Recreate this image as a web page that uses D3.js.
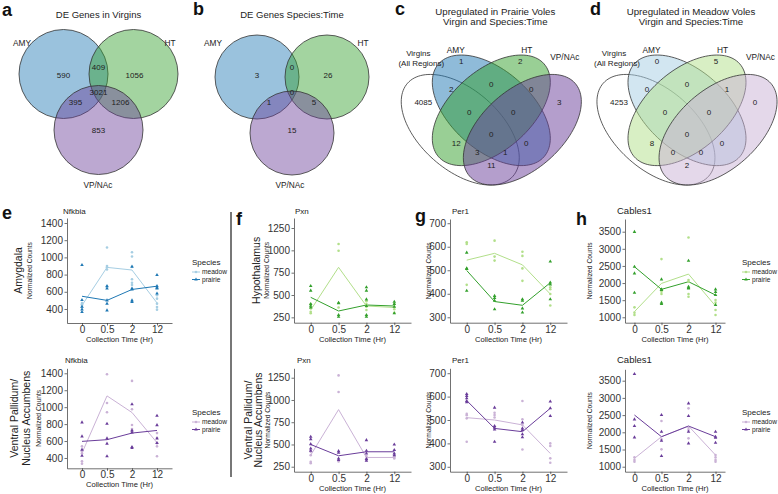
<!DOCTYPE html>
<html>
<head>
<meta charset="utf-8">
<script src="https://cdn.jsdelivr.net/npm/d3@7"></script>
<style>
  body { margin: 0; background: #fff; }
  svg { font-family: "Liberation Sans", Arial, Helvetica, sans-serif; }
</style>
</head>
<body>
<script>

// ---- data ----
var times = ["0", "0.5", "2", "12"];
var species = ["meadow", "prairie"];

var tripleSets = ["AMY", "HT", "VP/NAc"];
var virginCounts = [590, 409, 1056, 3021, 395, 1206, 853];
var speciesTimeCounts = [3, 0, 26, 0, 1, 5, 15];

var quadSets = ["Virgins", "AMY", "HT", "VP/NAc"];
var prairieUpCounts = [4085, 1, 2, 3, 2, 0, 0, 0, 0, 12, 0, 0, 3, 1, 11];
var meadowUpCounts = [4253, 0, 5, 0, 0, 0, 1, 0, 0, 8, 0, 0, 0, 0, 2];

var nfkbiaTicks = [400, 600, 800, 1000, 1200, 1400];
var pxnTicks = [250, 500, 750, 1000, 1250];
var per1Ticks = [300, 400, 500, 600, 700];
var cables1Ticks = [1000, 1500, 2000, 2500, 3000, 3500];

// Amygdala Nfkbia
var amyNfkbiaMeadow = [[470, 445, 420, 455], [1115, 900, 885, 860, 665], [1060, 1010, 890, 745, 705, 680], [560, 520, 462, 423, 392]];
var amyNfkbiaPrairie = [[912, 505, 425, 395, 365], [666, 638, 500, 462, 384], [892, 638, 627, 500, 482], [795, 666, 646, 638, 580]];
var amyNfkbiaMeadowMean = [443, 884, 853, 470];
var amyNfkbiaPrairieMean = [548, 500, 627, 665];

// VP/NAc Nfkbia
var vpNfkbiaMeadow = [[537, 480, 455, 361, 333], [1388, 1050, 940], [1310, 975, 790, 741, 722], [694, 635, 575, 537, 420]];
var vpNfkbiaPrairie = [[820, 655, 498, 427], [804, 631, 569, 420], [1035, 725, 702, 529, 518], [898, 788, 631, 576]];
var vpNfkbiaMeadowMean = [459, 1133, 937, 580];
var vpNfkbiaPrairieMean = [596, 616, 694, 725];

// Hypothalamus Pxn
var htPxnMeadow = [[399, 351, 313, 295], [1071, 996, 360], [430, 400, 369, 332], [400, 369, 340, 300]];
var htPxnPrairie = [[601, 549, 399, 380, 360], [414, 407, 276, 257], [586, 549, 451, 377, 276, 257], [425, 399, 369, 295]];
var htPxnMeadowMean = [332, 810, 377, 360];
var htPxnPrairieMean = [474, 321, 388, 377];

// VP/NAc Pxn
var vpPxnMeadow = [[430, 418, 380, 306, 290], [1276, 1090, 310], [369, 343, 325], [369, 354, 343]];
var vpPxnPrairie = [[586, 560, 504, 455, 429], [425, 407, 343, 325], [549, 429, 399, 336, 317], [500, 437, 399, 380]];
var vpPxnMeadowMean = [380, 892, 354, 354];
var vpPxnPrairieMean = [500, 373, 418, 418];

// Hypothalamus Per1
var htPer1Meadow = [[619, 612, 505, 438], [626, 558, 541], [579, 561, 508, 455], [428, 419, 399, 350]];
var htPer1Prairie = [[575, 508, 506, 413], [391, 382, 371, 334], [377, 371, 338, 320], [537, 448, 440, 377]];
var htPer1MeadowMean = [543, 572, 523, 399];
var htPer1PrairieMean = [499, 367, 351, 447];

// VP/NAc Per1
var vpPer1Meadow = [[526, 520, 507, 407], [531, 521, 511], [581, 503, 479, 374], [400, 389, 336, 317]];
var vpPer1Prairie = [[611, 603, 593, 581, 576], [553, 474, 467, 460, 407], [489, 464, 457, 439, 426], [579, 550, 517]];
var vpPer1MeadowMean = [510, 500, 479, 357];
var vpPer1PrairieMean = [583, 464, 450, 550];

// Hypothalamus Cables1
var htCables1Meadow = [[1291, 1136, 1068], [2699, 1748, 1680], [3330, 2087, 2039, 1680, 1602], [1505, 1427, 1214, 1068]];
var htCables1Prairie = [[3495, 2476, 2282, 1718], [2107, 1816, 1800, 1427, 1388], [2650, 1893, 1860, 1845], [1816, 1740, 1650, 1360]];
var htCables1MeadowMean = [1165, 1990, 2262, 1330];
var htCables1PrairieMean = [2476, 1816, 2039, 1650];

// VP/NAc Cables1
var vpCables1Meadow = [[1271, 1194, 1145], [2327, 1800, 1504], [2696, 2134, 2066, 1824], [1339, 1271, 1194, 1145]];
var vpCables1Prairie = [[3694, 2376, 2182, 1853], [2502, 2017, 1756, 1310], [2841, 2473, 2017, 1678], [2017, 1872, 1843, 1698]];
var vpCables1MeadowMean = [1242, 1872, 2182, 1339];
var vpCables1PrairieMean = [2502, 1872, 2182, 1872];

// ---- colours ----
var amyColors = ["#a6cee3", "#1f78b4"];
var htColors = ["#b2df8a", "#33a02c"];
var vpColors = ["#cab2d6", "#6a3d9a"];
var darkFills = ["#1f78b4", "#33a02c", "#6a3d9a"];
var lightFills = ["#a6cee3", "#b2df8a", "#cab2d6"];

var width = 778,
    height = 494,
    font = "'Liberation Sans', Arial, Helvetica, sans-serif";

var svg = d3.select("body")
    .append("svg")
    .attr("width", width)
    .attr("height", height);

function label(x, y, txt, size, opts) {
    opts = opts || {};
    var t = svg.append("text")
        .attr("x", x)
        .attr("y", y)
        .attr("text-anchor", opts.anchor || "middle")
        .attr("dy", opts.dy || "0.35em")
        .style("font-size", size + "px")
        .style("font-weight", opts.bold ? "bold" : "normal")
        .attr("fill", opts.fill || "#222")
        .text(txt);
    if (opts.rotate) t.attr("transform", "rotate(-90," + x + "," + y + ")");
    return t;
}

// ---- triple venns (a, b) ----
var tripleOffsets = [[-35, 75], [0, 67], [36, 75], [0, 92], [-23, 102], [22, 102.5], [0, 130]];

function drawTriple(cx, cy, r, title, counts, labelPos) {
    var centers = [[cx - 35, cy], [cx + 35, cy], [cx, cy + 56]];
    svg.append("g").selectAll("circle")
        .data(centers)
        .enter().append("circle")
        .attr("cx", function(d) { return d[0]; })
        .attr("cy", function(d) { return d[1]; })
        .attr("r", r)
        .attr("fill", function(d, i) { return darkFills[i]; })
        .attr("fill-opacity", 0.45)
        .attr("stroke", "#333")
        .attr("stroke-width", 0.8);
    label(cx, 15, title, 9.5);
    tripleSets.forEach(function(s, i) {
        label(labelPos[i][0], labelPos[i][1], s, 8.3);
    });
    counts.forEach(function(v, i) {
        label(cx + tripleOffsets[i][0], tripleOffsets[i][1], v, 8);
    });
}

drawTriple(98.5, 74, 44.5, "DE Genes in Virgins", virginCounts, [[22, 43], [170, 43], [98, 185]]);
drawTriple(292, 77, 42, "DE Genes Species:Time", speciesTimeCounts, [[213, 43], [363, 43], [290, 185]]);

// ---- quad venns (c, d) ----
var quadEllipses = [
    {u: 0.35, v: 0.53, rot: 45},
    {u: 0.50, v: 0.43, rot: 45},
    {u: 0.50, v: 0.43, rot: -45},
    {u: 0.65, v: 0.53, rot: -45}
];
var quadOffsets = [[-68, 102], [-30, 61], [29, 61], [68, 102], [-40, 89], [0, 84.5], [40, 89],
    [-22, 112], [22, 112], [-35, 143.5], [0, 134], [35, 143.5], [-14, 152], [14, 152], [0, 165]];

function drawQuad(cx, title1, title2, counts, fills) {
    var sx = 207, sy = 194, x0 = cx - sx / 2, y0 = 26.9;
    var a = 0.35, b = 0.2;
    var line = d3.line().curve(d3.curveLinearClosed);
    quadEllipses.forEach(function(e, i) {
        var rad = e.rot * Math.PI / 180;
        var pts = d3.range(0, 120).map(function(k) {
            var t = k / 120 * 2 * Math.PI;
            var u = e.u + a * Math.cos(t) * Math.cos(rad) - b * Math.sin(t) * Math.sin(rad);
            var v = e.v + a * Math.cos(t) * Math.sin(rad) + b * Math.sin(t) * Math.cos(rad);
            return [x0 + u * sx, y0 + v * sy];
        });
        svg.append("path")
            .attr("d", line(pts))
            .attr("fill", i === 0 ? "none" : fills[i - 1])
            .attr("fill-opacity", 0.5)
            .attr("stroke", "#333")
            .attr("stroke-width", 0.8);
    });
    label(cx + 4, 12, title1, 9.7);
    label(cx + 4, 22, title2, 9.7);
    label(cx - 73, 52.7, quadSets[0], 8);
    label(cx - 70, 63, "(All Regions)", 8);
    label(cx - 35.5, 50, quadSets[1], 8.3);
    label(cx + 35.5, 50, quadSets[2], 8.3);
    label(cx + 73.5, 57, quadSets[3], 8.3);
    counts.forEach(function(v, i) {
        label(cx + quadOffsets[i][0], quadOffsets[i][1], v, 8);
    });
}

drawQuad(491.3, "Upregulated in Prairie Voles", "Virgin and Species:Time", prairieUpCounts, darkFills);
drawQuad(687, "Upregulated in Meadow Voles", "Virgin and Species:Time", meadowUpCounts, lightFills);

// ---- expression plots (e - h) ----
var panels = [
    {left: 67, right: 172, pad: 0.6, top: 218, bottom: 323, ydom: [237, 1458], ticks: nfkbiaTicks,
     title: "Nfkbia", titleX: 63, titleY: 211, titleSize: 8, yTitleX: 30, rows: ["Amygdala"], rowX: [18],
     legend: [192, 262], colors: amyColors,
     meadow: amyNfkbiaMeadow, prairie: amyNfkbiaPrairie, meadowMean: amyNfkbiaMeadowMean, prairieMean: amyNfkbiaPrairieMean},
    {left: 67, right: 172, pad: 0.6, top: 368.3, bottom: 468.3, ydom: [278, 1459], ticks: nfkbiaTicks,
     title: "Nfkbia", titleX: 65, titleY: 360, titleSize: 8, yTitleX: 39, rows: ["Ventral Pallidum/", "Nucleus Accumbens"], rowX: [14, 26.5],
     legend: [192, 412], colors: vpColors,
     meadow: vpNfkbiaMeadow, prairie: vpNfkbiaPrairie, meadowMean: vpNfkbiaMeadowMean, prairieMean: vpNfkbiaPrairieMean},
    {left: 294, right: 411, pad: 0.6, top: 218, bottom: 322.7, ydom: [190, 1362], ticks: pxnTicks,
     title: "Pxn", titleX: 295, titleY: 211, titleSize: 8, yTitleX: 267, rows: ["Hypothalamus"], rowX: [256.5],
     colors: htColors,
     meadow: htPxnMeadow, prairie: htPxnPrairie, meadowMean: htPxnMeadowMean, prairieMean: htPxnPrairieMean},
    {left: 294, right: 411, pad: 0.6, top: 368.3, bottom: 471.7, ydom: [194, 1356], ticks: pxnTicks,
     title: "Pxn", titleX: 297, titleY: 360, titleSize: 8, yTitleX: 268, rows: ["Ventral Pallidum/", "Nucleus Accumbens"], rowX: [248, 258.5],
     colors: vpColors,
     meadow: vpPxnMeadow, prairie: vpPxnPrairie, meadowMean: vpPxnMeadowMean, prairieMean: vpPxnPrairieMean},
    {left: 450, right: 567, pad: 0.6, top: 219, bottom: 322.7, ydom: [277, 718], ticks: per1Ticks,
     title: "Per1", titleX: 452, titleY: 211, titleSize: 8, yTitleX: 428.3,
     colors: htColors,
     meadow: htPer1Meadow, prairie: htPer1Prairie, meadowMean: htPer1MeadowMean, prairieMean: htPer1PrairieMean},
    {left: 450, right: 567, pad: 0.6, top: 368.3, bottom: 471.7, ydom: [279, 721], ticks: per1Ticks,
     title: "Per1", titleX: 452, titleY: 360, titleSize: 8, yTitleX: 428.3,
     colors: vpColors,
     meadow: vpPer1Meadow, prairie: vpPer1Prairie, meadowMean: vpPer1MeadowMean, prairieMean: vpPer1PrairieMean},
    {left: 625, right: 725, pad: 0.35, top: 219, bottom: 322.7, ydom: [842, 3871], ticks: cables1Ticks,
     title: "Cables1", titleX: 617, titleY: 211, titleSize: 9.5, yTitleX: 590,
     legend: [742, 262], colors: htColors,
     meadow: htCables1Meadow, prairie: htCables1Prairie, meadowMean: htCables1MeadowMean, prairieMean: htCables1PrairieMean},
    {left: 625, right: 725, pad: 0.35, top: 369.3, bottom: 471.7, ydom: [855, 3831], ticks: cables1Ticks,
     title: "Cables1", titleX: 617, titleY: 360, titleSize: 9.5, yTitleX: 590,
     legend: [742, 412], colors: vpColors,
     meadow: vpCables1Meadow, prairie: vpCables1Prairie, meadowMean: vpCables1MeadowMean, prairieMean: vpCables1PrairieMean}
];

var triangle = d3.symbol().type(d3.symbolTriangle).size(5.5);

function drawMark(g, kind, x, y, color) {
    if (kind === 0) {
        g.append("circle").attr("cx", x).attr("cy", y).attr("r", 1.3).attr("fill", color);
    } else {
        g.append("path").attr("d", triangle).attr("transform", "translate(" + x + "," + y + ")").attr("fill", color);
    }
}

function drawPlot(p) {
    var g = svg.append("g");
    var x = d3.scalePoint().domain(times).range([p.left, p.right]).padding(p.pad);
    var y = d3.scaleLinear().domain(p.ydom).range([p.bottom, p.top]);

    g.append("g")
        .attr("transform", "translate(" + p.left + ",0)")
        .attr("font-size", 7.5).attr("font-family", font)
        .call(d3.axisLeft(y).tickValues(p.ticks).tickFormat(d3.format("d"))
            .tickSize(2.5).tickSizeOuter(0).tickPadding(1.5));
    g.append("g")
        .attr("transform", "translate(0," + p.bottom + ")")
        .attr("font-size", 7.5).attr("font-family", font)
        .call(d3.axisBottom(x).tickSize(2.5).tickSizeOuter(0).tickPadding(0.3));
    g.selectAll(".domain, .tick line").attr("stroke", "#333").attr("stroke-width", 0.7);
    g.selectAll(".tick text").attr("fill", "#333");

    var series = [[p.meadow, p.meadowMean], [p.prairie, p.prairieMean]];
    series.forEach(function(s, k) {
        g.append("path")
            .attr("d", d3.line()
                .x(function(d, i) { return x(times[i]); })
                .y(function(d) { return y(d); })(s[1]))
            .attr("fill", "none")
            .attr("stroke", p.colors[k])
            .attr("stroke-width", 1);
    });
    series.forEach(function(s, k) {
        s[0].forEach(function(vals, i) {
            vals.forEach(function(v) {
                drawMark(g, k, x(times[i]), y(v), p.colors[k]);
            });
        });
    });

    label(p.titleX, p.titleY, p.title, p.titleSize, {anchor: "start"});
    var midY = (p.top + p.bottom) / 2;
    label(p.yTitleX, midY, "Normalized Counts", 6.7, {rotate: true});
    label((p.left + p.right) / 2, p.bottom + 16.5, "Collection Time (Hr)", 7.6);
    if (p.rows) {
        p.rows.forEach(function(r, i) {
            label(p.rowX[i], midY, r, 10.5, {rotate: true});
        });
    }
    if (p.legend) {
        var lx = p.legend[0], ly = p.legend[1];
        label(lx, ly, "Species", 8, {anchor: "start"});
        species.forEach(function(s, k) {
            var yy = ly + 10 + k * 7.5;
            g.append("line").attr("x1", lx).attr("x2", lx + 8).attr("y1", yy).attr("y2", yy)
                .attr("stroke", p.colors[k]).attr("stroke-width", 1);
            drawMark(g, k, lx + 4, yy, p.colors[k]);
            label(lx + 10, yy, s, 6.6, {anchor: "start"});
        });
    }
}

panels.forEach(drawPlot);

// divider between e and f
svg.append("line")
    .attr("x1", 231).attr("x2", 231).attr("y1", 212).attr("y2", 477)
    .attr("stroke", "#555").attr("stroke-width", 1.6);

// panel letters
[["a", 2, 16], ["b", 193, 15], ["c", 395, 15], ["d", 590, 15],
 ["e", 2, 219], ["f", 236, 225], ["g", 415, 222], ["h", 576, 225]].forEach(function(l) {
    label(l[1], l[2], l[0], 18, {anchor: "start", bold: true, dy: "0", fill: "#111"});
});

</script>
</body>
</html>
